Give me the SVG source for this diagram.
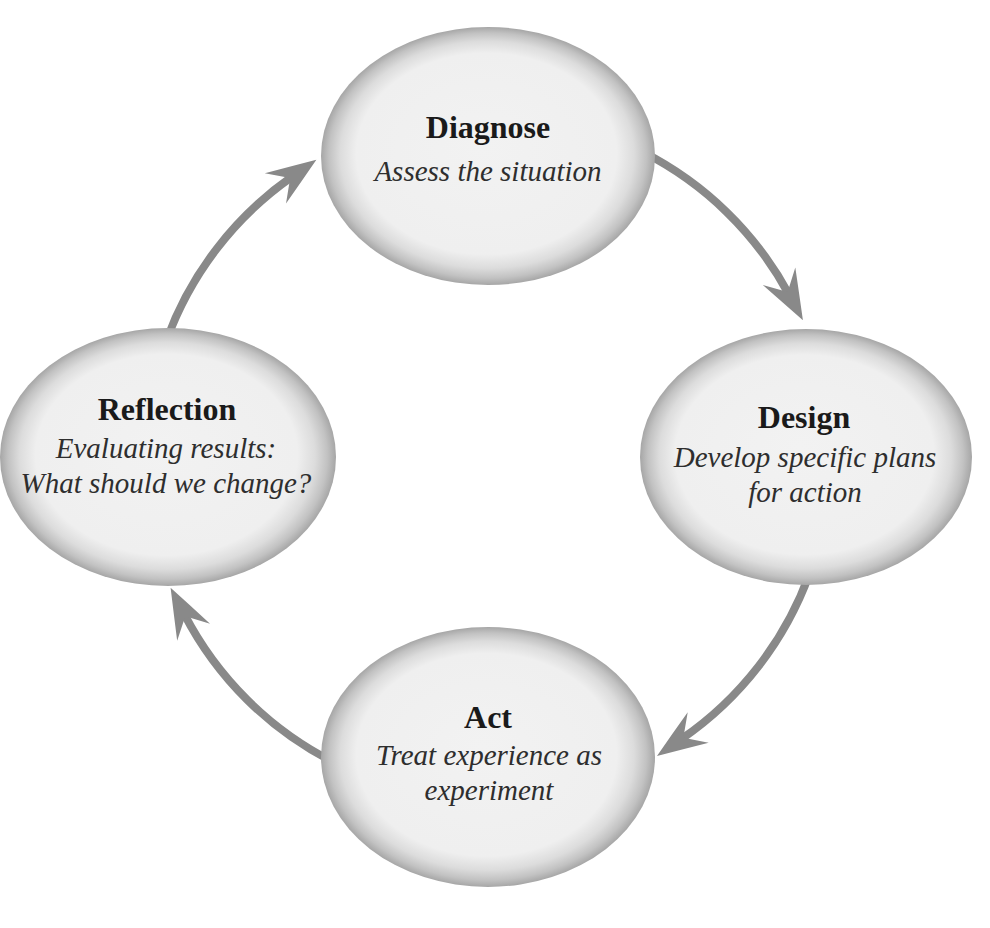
<svg xmlns="http://www.w3.org/2000/svg" width="990" height="928" viewBox="0 0 990 928">
<style>
.node ellipse { fill: url(#pillow); }
.title { font-family: "Liberation Serif", "DejaVu Serif", serif; font-weight: bold; font-size: 32px; fill: #1a1a1a; text-anchor: middle; }
.sub { font-family: "Liberation Serif", "DejaVu Serif", serif; font-style: italic; font-size: 29px; fill: #2e2e2e; text-anchor: middle; }
.conn path { fill: none; stroke: #898989; stroke-width: 8; marker-end: url(#head); }
</style>
<defs>
<radialGradient id="pillow" cx="50%" cy="50%" r="50%" fx="48%" fy="46%">
<stop offset="0" stop-color="#f2f2f2"/>
<stop offset="0.78" stop-color="#efefef"/>
<stop offset="0.88" stop-color="#dcdcdc"/>
<stop offset="0.95" stop-color="#c2c2c2"/>
<stop offset="1" stop-color="#a6a6a6"/>
</radialGradient>
<marker id="head" markerUnits="userSpaceOnUse" markerWidth="60" markerHeight="44" refX="20" refY="20" orient="auto" overflow="visible">
<path d="M50,20 Q26,11 0,1.5 L18,20 L0,38.5 Q26,29 50,20 Z" fill="#898989"/>
</marker>
</defs>
<rect width="990" height="928" fill="#ffffff"/>
<g id="connectors" class="conn">
<path d="M643.3,152.3 A342,342 0 0 1 788.6,293.8"/>
<path d="M809.4,574.0 A342,342 0 0 1 681.7,738.9"/>
<path d="M332.7,761.7 A342,342 0 0 1 184.4,614.4"/>
<path d="M166.6,340.0 A342,342 0 0 1 291.8,176.9"/>
</g>
<g id="diagnose" class="node">
<ellipse cx="488" cy="156" rx="167" ry="129"/>
<text class="title" x="488" y="138">Diagnose</text>
<text class="sub" x="488" y="181">Assess the situation</text>
</g>
<g id="design" class="node">
<ellipse cx="806" cy="457" rx="166" ry="128"/>
<text class="title" x="804" y="428">Design</text>
<text class="sub" x="805" y="467">Develop specific plans</text>
<text class="sub" x="805" y="502">for action</text>
</g>
<g id="act" class="node">
<ellipse cx="488" cy="757" rx="167" ry="130"/>
<text class="title" x="488" y="728">Act</text>
<text class="sub" x="489" y="765">Treat experience as</text>
<text class="sub" x="489" y="800">experiment</text>
</g>
<g id="reflection" class="node">
<ellipse cx="168" cy="457" rx="168" ry="129"/>
<text class="title" x="167" y="420">Reflection</text>
<text class="sub" x="166" y="458">Evaluating results:</text>
<text class="sub" x="166" y="493">What should we change?</text>
</g>
</svg>
